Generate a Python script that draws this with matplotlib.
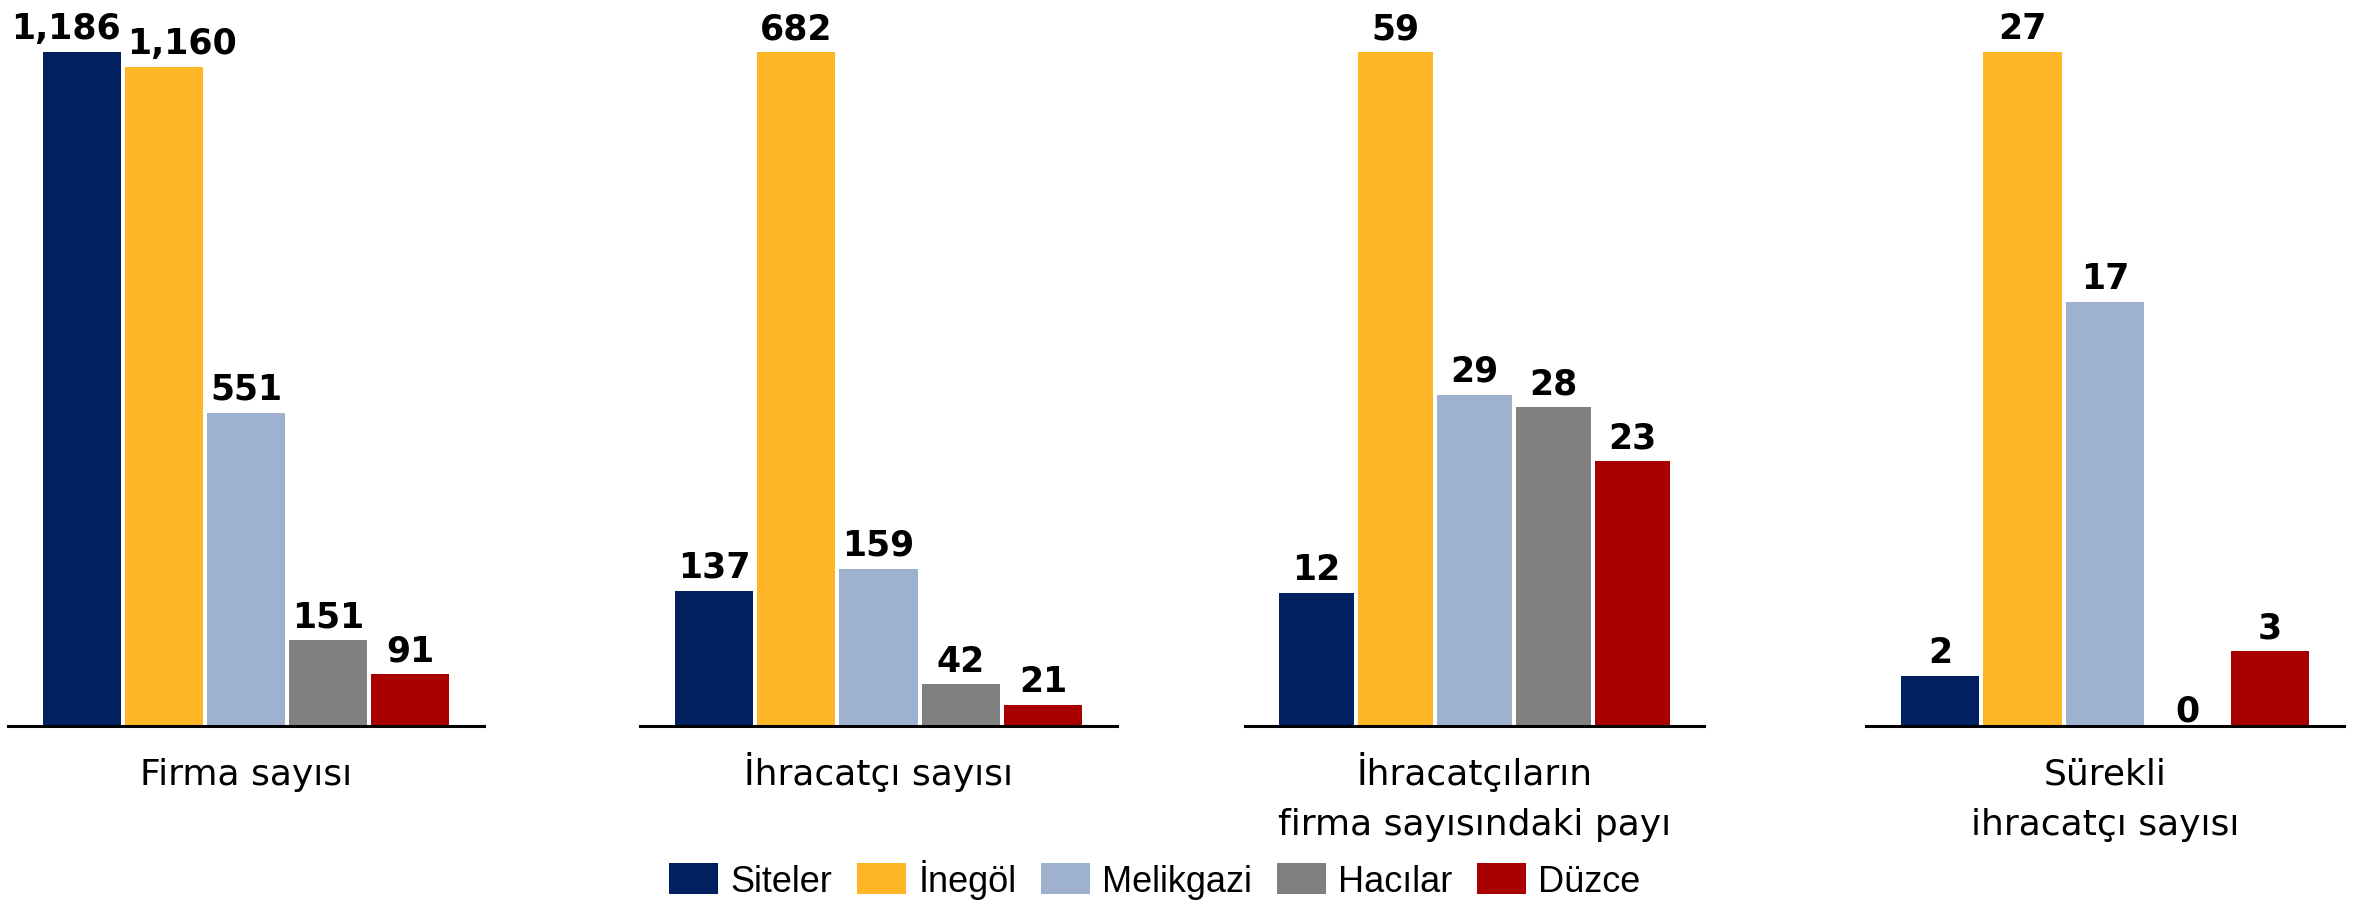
import matplotlib
matplotlib.use("Agg")
import matplotlib.pyplot as plt
from matplotlib.patches import Patch

# Data
regions = ["Siteler", "İnegöl", "Melikgazi", "Hacılar", "Düzce"]
firma_sayisi = [1186, 1160, 551, 151, 91]
ihracatci_sayisi = [137, 682, 159, 42, 21]
ihracatci_payi = [11.6, 58.8, 28.9, 27.8, 23.1]   # % (ihracatçı / firma)
surekli_ihracatci = [2, 27, 17, 0, 3]

panel_titles = ["Firma sayısı",
                "İhracatçı sayısı",
                "İhracatçıların\nfirma sayısındaki payı",
                "Sürekli\nihracatçı sayısı"]
panel_values = [firma_sayisi, ihracatci_sayisi, ihracatci_payi, surekli_ihracatci]

colors = ["#002060", "#FFB626", "#9EB2CF", "#808080", "#A80000"]

# Layout (pixels on a 2359x904 canvas)
W, H = 2359, 904
base_px = 727
top_bar_px = 53
panel_left = [8, 640, 1245, 1866]
panel_width = [476, 477, 459, 478]

# label nudges (points) where labels would collide
label_dx = {(0, 0): -11.5, (0, 1): 13}

plt.rcParams['font.family'] = ['DejaVu Sans']

fig = plt.figure(figsize=(W / 100, H / 100), dpi=100)

for i, (vals, title) in enumerate(zip(panel_values, panel_titles)):
    ax = fig.add_axes([panel_left[i] / W, (H - base_px) / H,
                       panel_width[i] / W, base_px / H])
    x = range(len(vals))
    ax.bar(x, vals, width=0.95, color=colors, linewidth=0)
    ax.set_xlim(-0.9, 4.9)
    ax.set_ylim(0, max(vals) * base_px / (base_px - top_bar_px))

    for j, v in enumerate(vals):
        dy = 10 if v > 0 else 4
        ax.annotate(f"{v:,.0f}", xy=(j, v), xytext=(label_dx.get((i, j), 0), dy),
                    textcoords="offset points", ha="center", va="baseline",
                    fontsize=25, fontweight="bold", color="black")

    for s in ["top", "left", "right"]:
        ax.spines[s].set_visible(False)
    ax.spines["bottom"].set_linewidth(2.2)
    ax.spines["bottom"].set_color("black")
    ax.set_xticks([])
    ax.set_yticks([])
    ax.patch.set_alpha(0)

    for k, line in enumerate(title.split("\n")):
        ax.annotate(line, xy=(0.5, 0), xycoords="axes fraction",
                    xytext=(0, -41.5 - k * 36), textcoords="offset points",
                    ha="center", va="baseline", fontsize=26)

handles = [Patch(facecolor=c, edgecolor="none") for c in colors]
fig.legend(handles, regions, loc="center", ncol=5,
           bbox_to_anchor=(1155 / W, 24 / H), frameon=False,
           prop={"family": ["Liberation Sans", "DejaVu Sans"], "size": 26},
           handlelength=1.36, handleheight=0.95,
           handletextpad=0.33, columnspacing=0.69, borderpad=0, borderaxespad=0)

fig.savefig("out.png", dpi=100)
